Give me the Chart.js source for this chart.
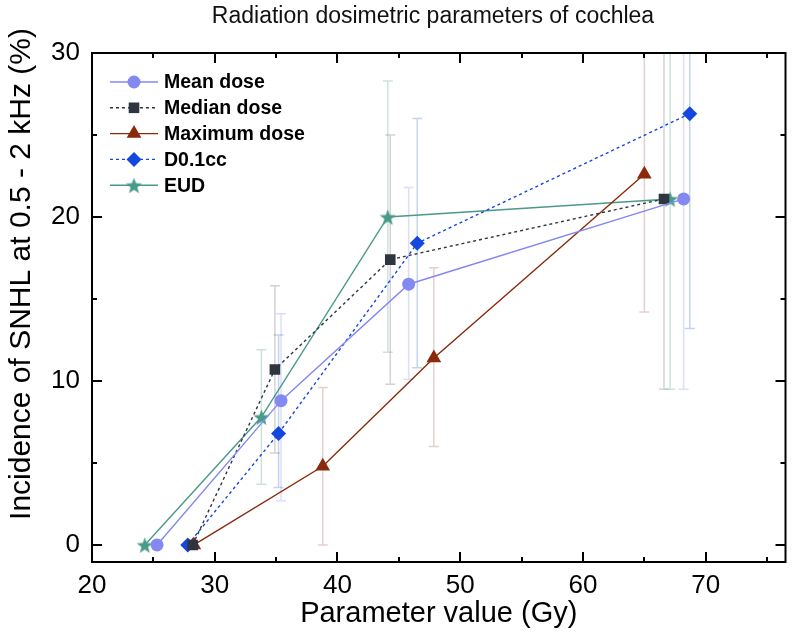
<!DOCTYPE html>
<html>
<head>
<meta charset="utf-8">
<title>Radiation dosimetric parameters of cochlea</title>
<script src="https://cdn.jsdelivr.net/npm/chart.js@4.4.1/dist/chart.umd.min.js"></script>
<style>
  body { margin: 0; background: #fff; }
  #wrap { width: 794px; height: 643px; }
</style>
</head>
<body>
<div id="wrap"><canvas id="chart" width="794" height="643"></canvas></div>
<script>
// values (x in Gy, y in %)
const seriesNames = ['Mean dose', 'Median dose', 'Maximum dose', 'D0.1cc', 'EUD'];

const meanX = [25.3, 35.4, 45.8, 68.2];
const meanY = [0, 8.8, 15.9, 21.1];
const meanLow = [null, 2.7, 10.1, 9.5];
const meanHigh = [null, 14.1, 21.8, 34];

const medianX = [28.2, 34.9, 44.3, 66.6];
const medianY = [0, 10.7, 17.4, 21.1];
const medianLow = [null, 5.6, 9.8, 9.5];
const medianHigh = [null, 15.8, 25.0, 34];

const maxX = [28.3, 38.8, 47.85, 65.0];
const maxY = [0, 4.8, 11.4, 22.6];
const maxLow = [null, 0, 6.0, 14.2];
const maxHigh = [null, 9.6, 16.9, 33];

const d01X = [27.8, 35.2, 46.5, 68.7];
const d01Y = [0, 6.8, 18.4, 26.3];
const d01Low = [null, 3.5, 10.8, 13.2];
const d01High = [null, 12.8, 26.0, 40];

const eudX = [24.3, 33.8, 44.1, 67.1];
const eudY = [0, 7.8, 20.0, 21.1];
const eudLow = [null, 3.7, 11.75, 9.5];
const eudHigh = [null, 11.9, 28.3, 34];

const xTickValues = [20, 25, 30, 35, 40, 45, 50, 55, 60, 65, 70, 75];
const yTickValues = [0, 5, 10, 15, 20, 25, 30];

const FONT = "'Liberation Sans', Arial, sans-serif";

function makeStar(r, color) {
  const c = document.createElement('canvas');
  const s = Math.ceil(r * 2 + 2);
  c.width = s; c.height = s;
  const g = c.getContext('2d');
  g.fillStyle = color;
  g.beginPath();
  for (let i = 0; i < 10; i++) {
    const rad = i % 2 ? r * 0.42 : r;
    const a = -Math.PI / 2 + i * Math.PI / 5;
    g.lineTo(s / 2 + rad * Math.cos(a), s / 2 + 1 + rad * Math.sin(a));
  }
  g.closePath();
  g.fill();
  return c;
}

function pts(xs, ys) {
  return xs.map((x, i) => ({ x: x, y: ys[i] }));
}

function series(label, xs, ys, lo, hi, color, style, radius, dash, errColor) {
  return {
    label: label,
    data: pts(xs, ys),
    errLow: lo,
    errHigh: hi,
    errColor: errColor,
    showLine: true,
    borderColor: color,
    backgroundColor: color,
    borderWidth: 1.4,
    borderDash: dash,
    pointStyle: style,
    pointRadius: radius,
    pointHoverRadius: radius,
    pointBorderWidth: 0,
    pointBackgroundColor: color,
    pointBorderColor: color
  };
}

const starImg = makeStar(8.5, '#4A9A8A');

const datasets = [
  series(seriesNames[0], meanX, meanY, meanLow, meanHigh, '#8389F0', 'circle', 6.5, [], 'rgba(131,137,240,0.28)'),
  series(seriesNames[1], medianX, medianY, medianLow, medianHigh, '#2E353F', 'rect', 7.5, [3, 3], 'rgba(110,110,120,0.3)'),
  series(seriesNames[2], maxX, maxY, maxLow, maxHigh, '#8A2A0A', 'triangle', 8.5, [], 'rgba(170,100,100,0.3)'),
  series(seriesNames[3], d01X, d01Y, d01Low, d01High, '#1446E0', 'rectRot', 7.5, [3, 3], 'rgba(60,110,200,0.3)'),
  series(seriesNames[4], eudX, eudY, eudLow, eudHigh, '#4A9A8A', starImg, 8.5, [], 'rgba(90,160,150,0.3)')
];

// vertical error bars with small caps, behind the lines
const errorBars = {
  id: 'errorBars',
  beforeDatasetsDraw(chart) {
    const { ctx, chartArea } = chart;
    const xs = chart.scales.x, ys = chart.scales.y;
    ctx.save();
    ctx.beginPath();
    ctx.rect(chartArea.left, chartArea.top, chartArea.right - chartArea.left, chartArea.bottom - chartArea.top);
    ctx.clip();
    chart.data.datasets.forEach(ds => {
      ctx.strokeStyle = ds.errColor;
      ctx.lineWidth = 1.5;
      ds.data.forEach((p, i) => {
        if (ds.errLow[i] == null) return;
        const px = xs.getPixelForValue(p.x);
        const y1 = ys.getPixelForValue(ds.errLow[i]);
        const y2 = ys.getPixelForValue(ds.errHigh[i]);
        ctx.beginPath();
        ctx.moveTo(px, y1); ctx.lineTo(px, y2);
        ctx.moveTo(px - 5, y1); ctx.lineTo(px + 5, y1);
        ctx.moveTo(px - 5, y2); ctx.lineTo(px + 5, y2);
        ctx.stroke();
      });
    });
    ctx.restore();
  }
};

// box frame with inward ticks on all four sides, titles, legend
const frame = {
  id: 'frame',
  afterDraw(chart) {
    const { ctx, chartArea: a } = chart;
    const xs = chart.scales.x, ys = chart.scales.y;
    ctx.save();
    ctx.strokeStyle = '#000';
    ctx.lineWidth = 2;
    ctx.strokeRect(a.left, a.top, a.right - a.left, a.bottom - a.top);
    ctx.beginPath();
    xTickValues.forEach(v => {
      const px = Math.round(xs.getPixelForValue(v));
      const len = v % 10 === 0 ? 10 : 5;
      ctx.moveTo(px, a.bottom); ctx.lineTo(px, a.bottom - len);
      ctx.moveTo(px, a.top); ctx.lineTo(px, a.top + len);
    });
    yTickValues.forEach(v => {
      const py = Math.round(ys.getPixelForValue(v));
      const len = v % 10 === 0 ? 10 : 5;
      ctx.moveTo(a.left, py); ctx.lineTo(a.left + len, py);
      ctx.moveTo(a.right, py); ctx.lineTo(a.right - len, py);
    });
    ctx.stroke();

    // chart title
    ctx.fillStyle = '#111';
    ctx.font = '23px ' + FONT;
    ctx.textAlign = 'center';
    ctx.textBaseline = 'middle';
    ctx.fillText('Radiation dosimetric parameters of cochlea', 433, 17);

    // y axis title, sits a bit above the axis centre as in the figure
    ctx.save();
    ctx.translate(22, 274);
    ctx.rotate(-Math.PI / 2);
    ctx.fillStyle = '#000';
    ctx.font = '30px ' + FONT;
    ctx.fillText('Incidence of SNHL at 0.5 - 2 kHz (%)', 0, 0);
    ctx.restore();

    // legend: line + marker + bold label
    const drawPoint = Chart.helpers.drawPoint;
    chart.data.datasets.forEach((ds, i) => {
      const y = 82 + i * 25.8;
      ctx.strokeStyle = ds.borderColor;
      ctx.lineWidth = 1.4;
      ctx.setLineDash(ds.borderDash);
      ctx.beginPath();
      ctx.moveTo(110, y); ctx.lineTo(158, y);
      ctx.stroke();
      ctx.setLineDash([]);
      ctx.fillStyle = ds.pointBackgroundColor;
      ctx.strokeStyle = ds.pointBackgroundColor;
      drawPoint(ctx, { pointStyle: ds.pointStyle, radius: ds.pointRadius, rotation: 0, borderWidth: 0 }, 134, y);
      ctx.fillStyle = '#000';
      ctx.font = 'bold 19.5px ' + FONT;
      ctx.textAlign = 'left';
      ctx.fillText(ds.label, 164, y + 1);
    });
    ctx.restore();
  }
};

new Chart(document.getElementById('chart').getContext('2d'), {
  type: 'scatter',
  data: { datasets: datasets },
  options: {
    responsive: false,
    animation: false,
    layout: { padding: { top: 53, right: 6, left: 0, bottom: 0 } },
    plugins: {
      legend: { display: false },
      tooltip: { enabled: false }
    },
    scales: {
      x: {
        type: 'linear',
        min: 20,
        max: 76.5,
        afterBuildTicks: s => { s.ticks = xTickValues.map(v => ({ value: v })); },
        afterFit: s => { s.height = 81; },
        grid: { display: false, drawTicks: false },
        border: { display: false },
        ticks: {
          color: '#000',
          font: { family: FONT, size: 26 },
          padding: 8,
          autoSkip: false,
          maxRotation: 0,
          callback: v => (v % 10 === 0 ? v : '')
        },
        title: {
          display: true,
          text: 'Parameter value (Gy)',
          color: '#000',
          font: { family: FONT, size: 29 },
          padding: { top: 0, bottom: 12 }
        }
      },
      y: {
        type: 'linear',
        min: -1.04,
        max: 30,
        afterBuildTicks: s => { s.ticks = yTickValues.map(v => ({ value: v })); },
        afterFit: s => { s.width = 92; },
        grid: { display: false, drawTicks: false },
        border: { display: false },
        ticks: {
          color: '#000',
          font: { family: FONT, size: 26 },
          padding: 12,
          autoSkip: false,
          callback: v => (v % 10 === 0 ? v : '')
        }
      }
    }
  },
  plugins: [errorBars, frame]
});
</script>
</body>
</html>
